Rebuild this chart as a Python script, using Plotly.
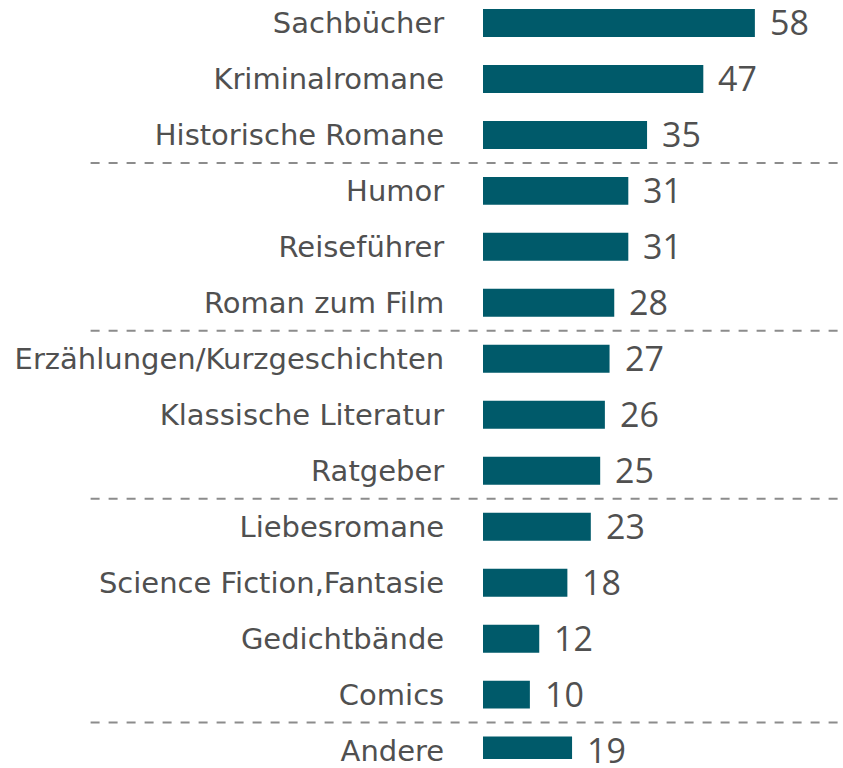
import plotly.graph_objects as go

categories = ["Sachbücher", "Kriminalromane", "Historische Romane", "Humor", "Reiseführer",
              "Roman zum Film", "Erzählungen/Kurzgeschichten", "Klassische Literatur", "Ratgeber",
              "Liebesromane", "Science Fiction,Fantasie", "Gedichtbände", "Comics", "Andere"]
values = [58, 47, 35, 31, 31, 28, 27, 26, 25, 23, 18, 12, 10, 19]
separators_after = [2, 5, 8, 12]

BAR = "#005a6a"
TXT = "#505050"
positions = list(range(len(categories)))

fig = go.Figure()
fig.add_trace(go.Bar(
    x=values, y=positions, orientation="h",
    marker=dict(color=BAR, line=dict(width=0)),
    width=0.5, hoverinfo="skip", showlegend=False,
))

for p, v in zip(positions, values):
    fig.add_annotation(x=v, y=p, xref="x", yref="y", text=str(v), showarrow=False,
                       xanchor="left", yanchor="middle", xshift=13, yshift=1,
                       font=dict(family="Open Sans", size=34, color=TXT))

for s in separators_after:
    fig.add_shape(type="line", xref="paper", yref="y", x0=-1.09, x1=1.0,
                  y0=s + 0.5, y1=s + 0.5,
                  line=dict(color="#8c8c8c", width=2, dash="dash"))

fig.update_layout(
    width=843, height=768,
    margin=dict(l=483, r=0, t=0, b=0),
    plot_bgcolor="white", paper_bgcolor="white",
    xaxis=dict(range=[0, 76.8], visible=False),
    yaxis=dict(range=[13.15, -0.41], tickmode="array", tickvals=positions, ticktext=categories,
               showgrid=False, zeroline=False, showline=False,
               ticks="outside", ticklen=32, tickcolor="rgba(0,0,0,0)",
               ticklabeloverflow="allow",
               tickfont=dict(family="DejaVu Sans", size=29, color=TXT)),
)

fig.write_html("out.html", config={"displayModeBar": False},
               post_script="document.body.style.margin='0';document.body.style.overflow='hidden';")
